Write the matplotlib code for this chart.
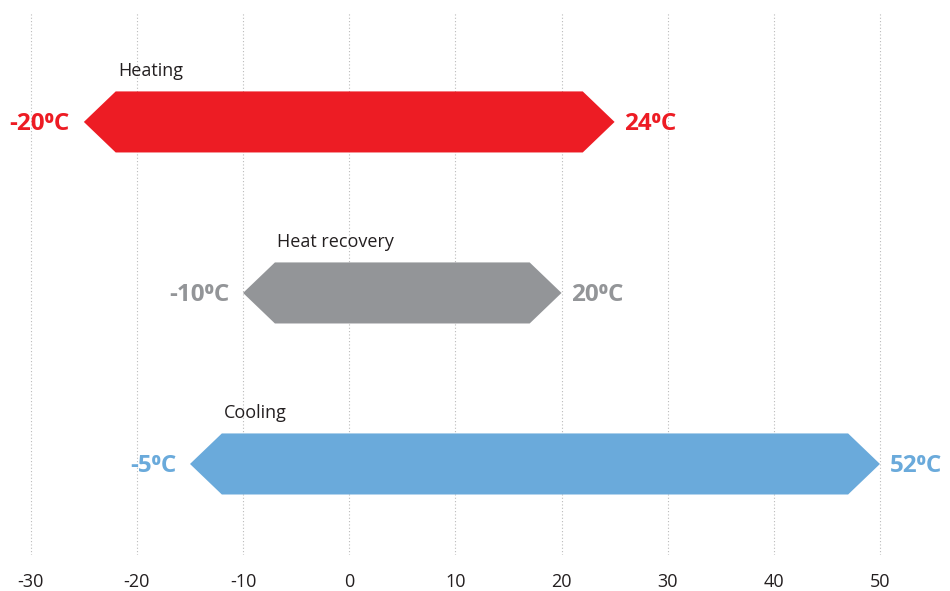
import matplotlib.pyplot as plt
from matplotlib.patches import Polygon

# ---- datos
modos = ["Heating", "Heat recovery", "Cooling"]
extremo_izq = [-25, -10, -15]      # punta izquierda de la flecha
extremo_der = [25, 20, 50]         # punta derecha de la flecha
etiqueta_min = ["-20\u2070C", "-10\u2070C", "-5\u2070C"]
etiqueta_max = ["24\u2070C", "20\u2070C", "52\u2070C"]
colores = ["#ED1C24", "#939598", "#6AAADB"]
ticks_x = [-30, -20, -10, 0, 10, 20, 30, 40, 50]

plt.rcParams['font.family'] = ['Open Sans', 'DejaVu Sans']
plt.rcParams['axes.unicode_minus'] = False

fig = plt.figure(figsize=(9.5, 5.91), dpi=100)
ax = fig.add_axes([0, 0.061, 1, 0.917])

alto = 0.357
punta = 3.0
for i, nombre in enumerate(modos):
    yc = 3 - i
    x0, x1 = extremo_izq[i], extremo_der[i]
    forma = [(x0, yc), (x0 + punta, yc + alto / 2), (x1 - punta, yc + alto / 2),
             (x1, yc), (x1 - punta, yc - alto / 2), (x0 + punta, yc - alto / 2)]
    ax.add_patch(Polygon(forma, closed=True, facecolor=colores[i],
                         edgecolor="none", zorder=3))
    ax.text(x0 + punta + 0.2, yc + 0.30, nombre, fontsize=13, color="#231F20",
            ha="left", va="center")
    ax.text(x0 - 1.3, yc - 0.01, etiqueta_min[i], fontsize=17.5, fontweight="bold",
            color=colores[i], ha="right", va="center")
    ax.text(x1 + 0.9, yc - 0.01, etiqueta_max[i], fontsize=17.5, fontweight="bold",
            color=colores[i], ha="left", va="center")

ax.set_xlim(-32.9, 56.6)
ax.set_ylim(0.468, 3.637)
ax.set_xticks(ticks_x)
ax.set_yticks([])
ax.tick_params(axis="x", length=0, labelsize=13, labelcolor="#231F20", pad=13)
ax.grid(axis="x", linestyle=(0, (1, 2)), color="#BBBBBB", linewidth=0.8, zorder=0)
for lado in ax.spines.values():
    lado.set_visible(False)

fig.savefig("out.png", dpi=100)
